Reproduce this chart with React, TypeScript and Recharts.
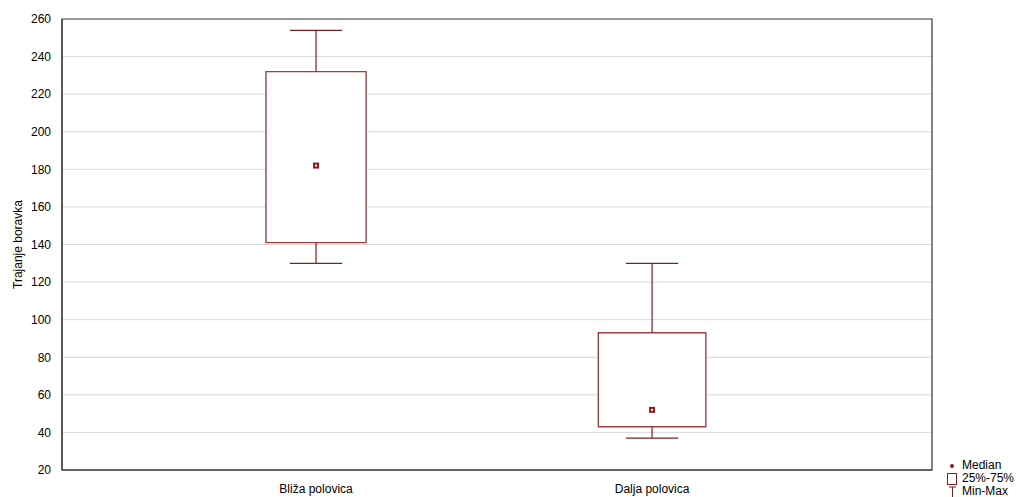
import {
    ComposedChart,
    XAxis,
    YAxis,
    CartesianGrid,
    ReferenceArea,
    ReferenceLine,
    Scatter,
} from 'recharts';

// values
const categories = ['Bliža polovica', 'Dalja polovica'];
const positions = [1, 2];
const minValues = [130, 37];
const q1Values = [141, 43];
const medianValues = [182, 52];
const q3Values = [232, 93];
const maxValues = [254, 130];
const yTicks = [20, 40, 60, 80, 100, 120, 140, 160, 180, 200, 220, 240, 260];

const BOX_COLOR = '#8b1a1a';
const BOX_HALF = [0.149, 0.16];
const CAP_HALF = 0.078;
const X_DOMAIN: [number, number] = [0.244, 2.833];
const Y_DOMAIN: [number, number] = [20, 260];
const FRAME = '#333';
const FONT = '"Liberation Sans", Arial, sans-serif';

const medianData = positions.map((x, i) => ({ x, y: medianValues[i] }));

function MedianMarker(props: any) {
    const { cx, cy } = props;
    if (cx == null || cy == null) return null;
    return (
        <g>
            <rect x={cx - 3} y={cy - 3} width={6} height={6} fill={BOX_COLOR} />
            <rect x={cx - 1} y={cy - 1} width={2} height={2} fill="#fff" />
        </g>
    );
}

function LegendBox() {
    const row = { display: 'flex', alignItems: 'center', height: 13 } as const;
    const icon = { width: 14, display: 'inline-flex', justifyContent: 'center' } as const;
    return (
        <div
            style={{
                position: 'absolute',
                left: 945,
                top: 459,
                fontFamily: FONT,
                fontSize: 12,
                color: '#000',
                lineHeight: '13px',
            }}
        >
            <div style={row}>
                <span style={icon}>
                    <span style={{ width: 4, height: 4, background: BOX_COLOR, borderRadius: 2 }} />
                </span>
                <span style={{ marginLeft: 3 }}>Median</span>
            </div>
            <div style={row}>
                <span style={icon}>
                    <span style={{ width: 8, height: 10, border: `1px solid ${BOX_COLOR}` }} />
                </span>
                <span style={{ marginLeft: 3 }}>25%-75%</span>
            </div>
            <div style={row}>
                <span style={icon}>
                    <svg width={9} height={11}>
                        <line x1={1} y1={1} x2={8} y2={1} stroke={BOX_COLOR} />
                        <line x1={4.5} y1={1} x2={4.5} y2={11} stroke={BOX_COLOR} />
                    </svg>
                </span>
                <span style={{ marginLeft: 3 }}>Min-Max</span>
            </div>
        </div>
    );
}

export default function App() {
    return (
        <div style={{ position: 'absolute', left: 0, top: 0, width: 1018, height: 497, background: '#fff' }}>
            <ComposedChart
                width={1018}
                height={497}
                margin={{ top: 19, right: 86, bottom: 0, left: 0 }}
            >
                <CartesianGrid vertical={false} stroke="#d9d9d9" horizontalValues={yTicks.slice(1, -1)} />
                <XAxis
                    dataKey="x"
                    type="number"
                    domain={X_DOMAIN}
                    allowDataOverflow
                    ticks={positions}
                    tickFormatter={(v: number) => categories[positions.indexOf(v)] ?? ''}
                    height={27}
                    tickLine={false}
                    axisLine={{ stroke: FRAME }}
                    tick={{ fill: '#000', fontSize: 12, fontFamily: FONT }}
                    tickMargin={8}
                />
                <YAxis
                    type="number"
                    domain={Y_DOMAIN}
                    ticks={yTicks}
                    allowDataOverflow
                    width={62}
                    tickLine={false}
                    axisLine={{ stroke: FRAME }}
                    tick={{ fill: '#000', fontSize: 12, fontFamily: FONT }}
                    tickMargin={5}
                    label={{
                        value: 'Trajanje boravka',
                        angle: -90,
                        position: 'insideLeft',
                        offset: 18,
                        style: { textAnchor: 'middle', fill: '#000', fontSize: 12, fontFamily: FONT },
                    }}
                />

                {/* plot frame */}
                <ReferenceArea
                    x1={X_DOMAIN[0]}
                    x2={X_DOMAIN[1]}
                    y1={Y_DOMAIN[0]}
                    y2={Y_DOMAIN[1]}
                    fill="none"
                    stroke={FRAME}
                    strokeWidth={1.2}
                />

                {positions.map((x, i) => (
                    <ReferenceLine
                        key={`wt-${i}`}
                        segment={[{ x, y: q3Values[i] }, { x, y: maxValues[i] }]}
                        stroke={BOX_COLOR}
                        strokeWidth={1.2}
                    />
                ))}
                {positions.map((x, i) => (
                    <ReferenceLine
                        key={`wb-${i}`}
                        segment={[{ x, y: minValues[i] }, { x, y: q1Values[i] }]}
                        stroke={BOX_COLOR}
                        strokeWidth={1.2}
                    />
                ))}
                {positions.map((x, i) => (
                    <ReferenceLine
                        key={`ct-${i}`}
                        segment={[{ x: x - CAP_HALF, y: maxValues[i] }, { x: x + CAP_HALF, y: maxValues[i] }]}
                        stroke={BOX_COLOR}
                        strokeWidth={1.2}
                    />
                ))}
                {positions.map((x, i) => (
                    <ReferenceLine
                        key={`cb-${i}`}
                        segment={[{ x: x - CAP_HALF, y: minValues[i] }, { x: x + CAP_HALF, y: minValues[i] }]}
                        stroke={BOX_COLOR}
                        strokeWidth={1.2}
                    />
                ))}
                {positions.map((x, i) => (
                    <ReferenceArea
                        key={`box-${i}`}
                        x1={x - BOX_HALF[i]}
                        x2={x + BOX_HALF[i]}
                        y1={q1Values[i]}
                        y2={q3Values[i]}
                        fill="#fff"
                        fillOpacity={1}
                        stroke="#a04040"
                        strokeWidth={1.4}
                    />
                ))}
                <Scatter data={medianData} dataKey="y" shape={<MedianMarker />} isAnimationActive={false} />
            </ComposedChart>
            <LegendBox />
        </div>
    );
}
